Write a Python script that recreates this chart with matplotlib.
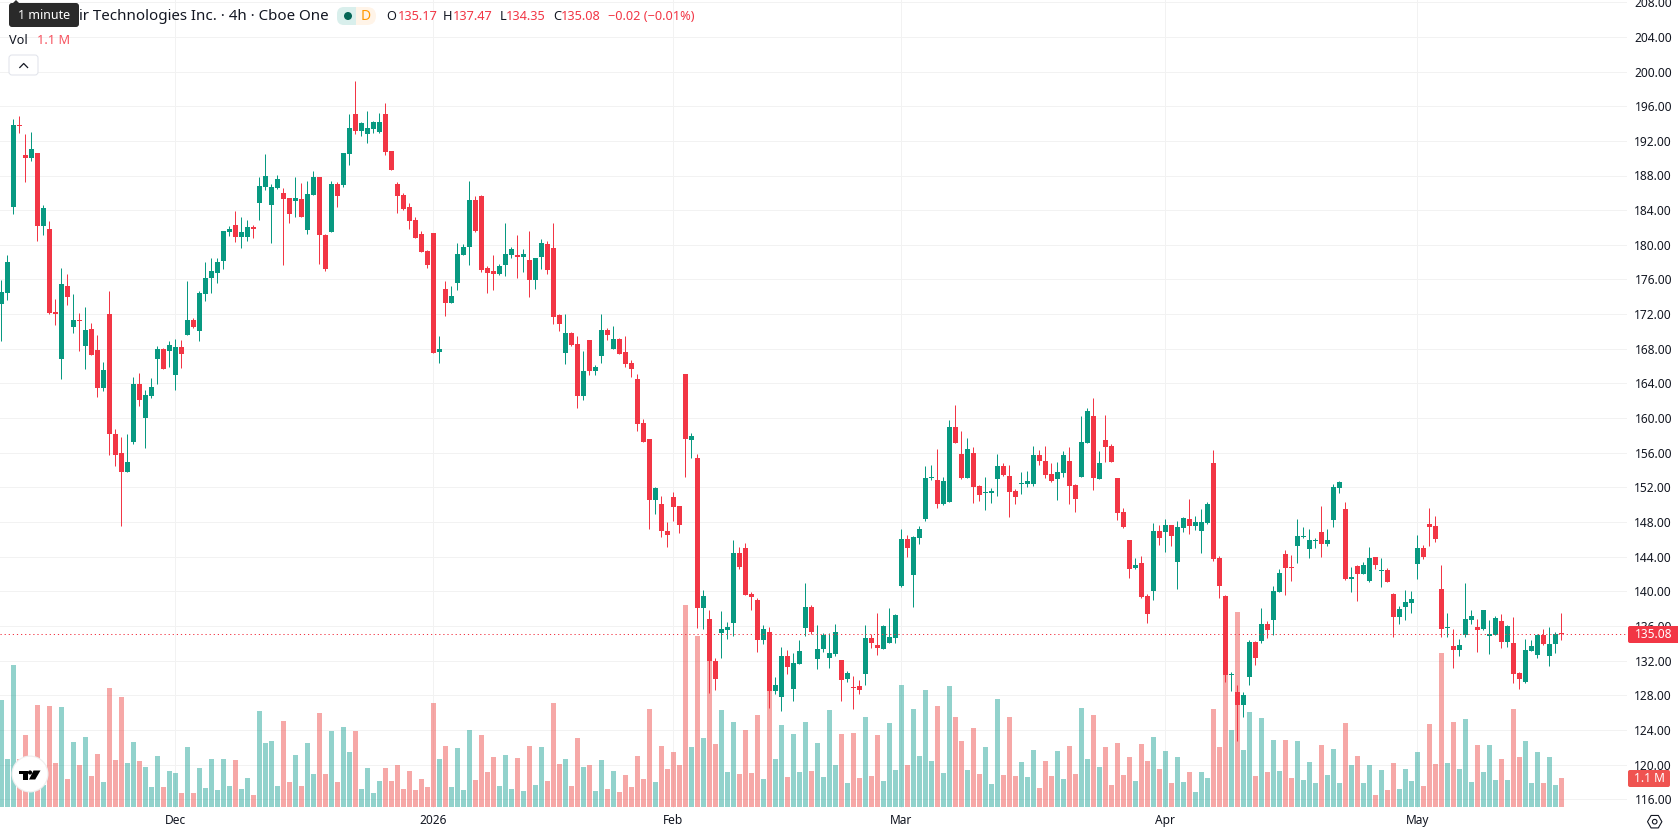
import numpy as np
import matplotlib
matplotlib.use('Agg')
import matplotlib.pyplot as plt
from matplotlib.patches import FancyBboxPatch, Circle, Rectangle, Polygon, RegularPolygon

plt.rcParams['font.family'] = ['Noto Sans', 'DejaVu Sans']

# 4h candles, oldest first
opens = [
    173.19, 174.46, 184.40, 193.88, 190.41, 190.06, 190.64, 182.21, 181.86, 172.27,
    166.84, 175.27, 170.54, 171.35, 168.34, 170.31, 167.88, 163.49, 172.04, 158.17,
    155.98, 153.78, 157.25, 163.95, 160.02, 162.56, 166.84, 168.00, 167.76, 165.00,
    168.23, 169.61, 171.35, 170.08, 174.35, 176.20, 176.78, 178.16, 181.51, 182.32,
    180.94, 180.94, 182.09, 184.86, 186.71, 184.63, 186.60, 186.02, 185.44, 185.09,
    185.33, 181.74, 185.79, 187.87, 181.17, 181.51, 187.06, 186.94, 190.53, 195.15,
    193.18, 192.84, 193.41, 193.07, 195.15, 190.87, 187.06, 185.79, 184.40, 182.90,
    181.28, 179.32, 181.40, 167.65, 174.93, 173.31, 175.62, 178.86, 179.78, 185.21,
    185.67, 177.36, 177.01, 176.66, 177.70, 178.86, 178.86, 178.63, 178.28, 175.97,
    178.63, 180.13, 179.67, 171.93, 167.54, 169.85, 168.58, 162.57, 169.04, 165.46,
    167.19, 170.19, 168.00, 169.15, 167.65, 166.38, 164.53, 159.45, 157.60, 150.55,
    150.09, 146.97, 150.90, 149.86, 165.11, 157.48, 155.40, 138.07, 136.80, 131.94,
    135.18, 135.52, 136.33, 144.42, 145.00, 139.68, 138.99, 134.37, 135.29, 128.48,
    127.78, 132.52, 128.71, 131.60, 135.76, 138.18, 132.17, 133.33, 132.29, 132.75,
    132.06, 129.86, 128.94, 129.05, 130.44, 134.60, 133.79, 133.33, 134.02, 134.60,
    140.61, 146.04, 141.88, 146.15, 148.35, 153.09, 152.86, 150.08, 150.31, 158.98,
    155.86, 153.09, 155.97, 152.16, 151.35, 151.35, 152.97, 154.47, 153.32, 151.58,
    152.39, 152.39, 152.39, 155.74, 155.05, 153.55, 152.97, 153.66, 155.05, 152.28,
    153.20, 157.13, 160.25, 152.97, 157.48, 156.79, 153.09, 149.16, 145.92, 142.69,
    143.27, 139.45, 140.03, 146.96, 146.85, 147.66, 143.38, 147.31, 148.35, 147.54,
    146.96, 147.89, 154.82, 143.84, 139.45, 130.33, 128.36, 126.86, 130.10, 134.14,
    134.25, 136.22, 136.68, 139.92, 144.31, 142.81, 145.23, 146.27, 144.88, 145.81,
    146.85, 145.46, 148.24, 151.93, 149.51, 141.42, 142.92, 141.99, 141.19, 143.96,
    142.34, 142.46, 139.69, 137.03, 138.18, 138.65, 143.15, 145.00, 147.77, 147.54,
    140.26, 135.76, 133.68, 133.21, 134.95, 136.68, 135.87, 135.64, 134.84, 134.95,
    136.57, 134.14, 134.03, 130.56, 129.52, 133.10, 132.64, 134.95, 132.53, 133.91,
    135.17,
]
highs = [
    175.97, 178.86, 194.57, 194.92, 192.84, 193.07, 190.64, 184.63, 182.78, 173.77,
    177.35, 176.66, 174.35, 172.15, 172.85, 171.00, 169.61, 166.49, 174.70, 158.75,
    157.83, 158.17, 164.76, 165.22, 163.26, 164.64, 168.34, 168.11, 168.92, 169.15,
    169.03, 175.85, 171.58, 174.70, 178.05, 178.51, 178.51, 181.63, 182.21, 183.94,
    183.25, 182.90, 182.32, 187.87, 190.53, 187.06, 188.10, 186.60, 185.44, 187.87,
    187.17, 187.41, 188.56, 187.87, 181.28, 187.41, 187.29, 190.64, 195.15, 198.96,
    194.22, 195.49, 194.34, 195.26, 196.42, 190.87, 187.29, 186.02, 184.87, 183.25,
    181.63, 179.44, 181.40, 169.50, 175.85, 175.28, 180.24, 180.13, 187.41, 185.67,
    185.79, 177.59, 178.86, 177.82, 182.56, 179.78, 181.17, 179.55, 181.63, 178.51,
    180.71, 180.48, 182.56, 172.04, 172.04, 169.96, 169.50, 167.77, 169.04, 166.15,
    172.04, 170.42, 170.65, 169.27, 169.50, 166.73, 165.11, 159.91, 157.60, 152.05,
    151.01, 148.01, 151.47, 149.86, 165.11, 158.29, 155.86, 140.15, 137.83, 132.29,
    137.72, 136.45, 145.92, 145.13, 145.58, 139.91, 139.22, 136.10, 135.87, 130.09,
    133.56, 133.21, 132.87, 134.37, 140.95, 138.41, 136.10, 135.18, 135.18, 136.22,
    132.06, 130.79, 130.21, 129.75, 136.10, 135.06, 137.49, 136.10, 138.07, 137.37,
    147.19, 146.50, 146.39, 147.54, 154.47, 154.59, 156.44, 153.20, 159.79, 161.52,
    158.52, 157.71, 156.67, 152.28, 153.20, 151.93, 155.86, 154.82, 154.59, 151.82,
    153.78, 153.90, 156.78, 156.32, 156.78, 154.82, 154.94, 156.21, 156.67, 152.39,
    160.25, 161.18, 162.33, 156.21, 160.37, 157.02, 153.09, 149.62, 145.92, 143.84,
    144.08, 139.69, 147.89, 147.66, 148.35, 147.66, 148.12, 148.58, 150.66, 148.70,
    149.51, 150.31, 156.32, 144.08, 139.57, 130.67, 129.17, 128.36, 134.37, 134.25,
    138.07, 136.57, 140.61, 142.57, 144.77, 144.19, 148.35, 147.43, 147.20, 146.16,
    149.85, 147.20, 152.39, 152.74, 150.31, 142.81, 143.04, 143.38, 145.12, 143.96,
    143.84, 142.69, 139.80, 138.30, 140.15, 140.03, 146.50, 145.35, 149.62, 148.70,
    143.04, 137.49, 135.64, 134.49, 140.96, 137.84, 136.80, 137.84, 136.68, 137.15,
    137.38, 136.11, 137.03, 130.68, 134.49, 134.37, 135.07, 135.64, 135.88, 135.30,
    137.47,
]
lows = [
    168.92, 173.66, 183.60, 192.95, 187.29, 189.72, 180.47, 181.17, 172.04, 170.77,
    164.53, 173.08, 169.84, 167.76, 165.68, 167.30, 162.45, 163.14, 155.75, 154.48,
    147.54, 153.78, 157.02, 161.41, 156.56, 162.33, 163.95, 165.68, 165.92, 163.26,
    165.80, 169.61, 170.42, 168.92, 173.54, 174.46, 175.62, 177.24, 181.05, 180.36,
    179.66, 180.47, 180.82, 182.90, 186.37, 180.24, 186.48, 177.70, 182.55, 183.25,
    183.25, 181.28, 185.79, 177.82, 177.01, 181.51, 184.40, 186.71, 189.25, 192.84,
    192.60, 191.80, 192.95, 192.95, 190.41, 188.68, 183.71, 184.06, 181.86, 180.82,
    179.20, 177.36, 167.54, 166.38, 171.81, 173.31, 174.81, 178.86, 177.70, 181.52,
    176.89, 174.47, 174.81, 176.55, 176.43, 178.51, 176.20, 176.89, 174.00, 174.93,
    177.24, 176.66, 170.89, 170.08, 166.26, 168.35, 161.18, 162.10, 165.00, 165.00,
    166.38, 169.04, 168.00, 167.42, 165.92, 164.76, 158.52, 157.25, 147.20, 148.93,
    146.28, 145.12, 148.12, 146.74, 153.21, 155.40, 135.76, 135.64, 128.25, 128.59,
    132.29, 134.48, 134.83, 142.57, 139.57, 137.83, 132.98, 133.91, 126.51, 128.13,
    126.16, 130.44, 127.32, 131.60, 134.83, 135.06, 131.02, 132.98, 131.13, 132.52,
    127.32, 129.52, 126.40, 128.13, 129.17, 133.44, 132.64, 133.33, 134.02, 134.02,
    140.49, 143.96, 138.18, 145.46, 148.12, 152.86, 149.62, 149.97, 150.31, 157.13,
    152.97, 153.09, 150.20, 150.43, 149.39, 150.20, 151.00, 153.32, 148.58, 150.08,
    151.24, 152.05, 152.16, 154.59, 153.09, 152.62, 150.54, 153.20, 150.08, 149.16,
    153.20, 157.13, 151.70, 152.97, 154.94, 154.94, 148.24, 147.31, 141.53, 142.57,
    139.22, 136.33, 138.99, 145.35, 144.54, 145.23, 140.26, 146.85, 146.62, 147.08,
    144.42, 147.77, 143.50, 139.22, 129.52, 128.48, 122.70, 125.47, 129.17, 131.48,
    134.02, 134.60, 134.95, 139.92, 139.57, 141.19, 143.27, 146.16, 143.84, 145.00,
    143.96, 145.23, 147.43, 151.35, 141.30, 139.92, 138.88, 141.99, 141.07, 142.57,
    140.49, 141.07, 134.72, 136.22, 136.68, 137.49, 141.42, 143.73, 145.23, 145.69,
    134.72, 134.72, 131.14, 132.52, 134.72, 136.22, 132.98, 135.53, 132.76, 134.95,
    133.45, 133.56, 129.41, 128.71, 129.41, 133.10, 132.29, 133.80, 131.37, 132.87,
    134.35,
]
closes = [
    174.58, 178.05, 193.88, 193.76, 190.06, 191.10, 182.21, 184.29, 172.15, 172.04,
    175.50, 174.00, 171.35, 171.23, 170.19, 167.30, 163.49, 165.57, 158.17, 155.75,
    153.78, 154.94, 163.95, 162.10, 162.68, 163.60, 168.00, 165.68, 168.46, 168.23,
    167.42, 171.35, 170.54, 174.46, 176.20, 177.00, 178.05, 181.63, 181.86, 180.94,
    181.51, 182.09, 181.86, 186.83, 187.98, 186.71, 187.64, 185.33, 183.59, 185.44,
    183.25, 185.90, 187.87, 181.17, 177.24, 187.06, 185.67, 190.64, 193.53, 193.18,
    194.10, 193.53, 194.22, 194.22, 190.76, 188.68, 185.67, 184.17, 182.79, 180.82,
    179.20, 177.70, 167.54, 168.00, 173.31, 174.12, 178.97, 179.78, 185.21, 181.63,
    177.12, 176.78, 176.66, 177.59, 178.97, 179.55, 178.63, 178.97, 175.97, 178.51,
    180.24, 177.12, 171.70, 170.89, 169.85, 168.46, 162.57, 165.46, 165.46, 165.92,
    170.19, 169.62, 169.15, 167.42, 166.26, 165.69, 159.33, 157.25, 150.55, 151.94,
    146.97, 146.51, 149.74, 147.66, 157.60, 157.95, 138.07, 139.45, 131.94, 129.86,
    135.64, 135.87, 144.42, 142.80, 139.57, 139.34, 134.37, 135.64, 128.48, 129.17,
    132.52, 131.25, 131.71, 133.10, 138.18, 135.29, 133.33, 134.95, 132.87, 135.29,
    129.75, 130.56, 128.82, 128.59, 134.60, 134.02, 133.44, 135.99, 134.72, 137.26,
    146.04, 145.00, 146.27, 147.19, 153.09, 153.20, 150.08, 152.74, 158.98, 157.13,
    153.09, 156.44, 152.05, 151.12, 151.47, 151.58, 154.47, 153.43, 151.47, 150.89,
    152.51, 152.74, 155.74, 155.05, 153.43, 152.74, 153.78, 155.74, 152.16, 150.66,
    157.25, 160.83, 153.09, 154.82, 156.67, 154.94, 149.04, 147.43, 142.57, 143.04,
    139.34, 137.37, 146.96, 146.16, 147.66, 146.39, 147.43, 148.47, 147.54, 148.00,
    148.00, 150.08, 143.73, 140.61, 130.33, 130.44, 126.86, 128.02, 134.14, 132.29,
    136.22, 135.53, 140.03, 142.11, 142.69, 142.69, 146.39, 146.39, 145.92, 145.92,
    145.46, 145.92, 152.05, 152.63, 141.42, 141.65, 141.99, 143.04, 143.84, 143.04,
    142.46, 141.07, 137.03, 137.95, 138.76, 139.11, 145.00, 143.96, 147.43, 146.04,
    135.64, 135.87, 133.21, 133.79, 136.80, 137.14, 135.53, 137.84, 135.07, 136.92,
    134.14, 135.99, 130.45, 129.87, 133.22, 133.68, 134.95, 133.91, 133.91, 135.07,
    135.08,
]
# volume per candle, in millions
volumes = [
    4.10, 1.84, 5.45, 1.84, 2.76, 0.78, 3.91, 0.84, 3.87, 1.69,
    3.84, 1.07, 2.49, 1.61, 2.69, 1.19, 2.03, 0.96, 4.57, 1.80,
    4.22, 1.69, 2.49, 1.76, 1.53, 0.77, 1.96, 0.77, 1.38, 1.30,
    0.54, 2.30, 0.54, 1.50, 0.73, 1.84, 0.65, 1.84, 0.81, 1.80,
    0.69, 1.11, 0.46, 3.68, 2.46, 2.53, 0.81, 3.30, 0.96, 1.99,
    0.81, 2.46, 1.27, 3.61, 1.27, 2.92, 0.96, 3.07, 2.11, 2.92,
    0.69, 1.50, 0.54, 1.00, 1.50, 1.00, 1.61, 0.69, 1.38, 0.65,
    1.07, 0.77, 3.99, 1.84, 2.34, 0.77, 2.26, 0.65, 2.95, 1.04,
    2.76, 1.34, 1.92, 0.81, 1.99, 0.69, 1.88, 0.61, 2.34, 0.84,
    2.30, 1.00, 3.99, 1.65, 1.84, 0.81, 2.65, 1.53, 1.61, 0.61,
    1.80, 0.69, 1.38, 0.58, 1.23, 0.77, 1.96, 1.07, 3.76, 0.96,
    2.34, 1.46, 2.11, 1.61, 7.75, 2.30, 6.56, 2.65, 6.02, 2.42,
    3.72, 1.34, 3.26, 1.27, 2.95, 1.30, 3.53, 1.07, 4.62, 1.84,
    3.15, 1.15, 2.80, 1.34, 3.26, 1.38, 2.46, 1.15, 3.72, 1.61,
    2.80, 0.92, 2.84, 1.11, 3.45, 1.19, 2.76, 1.00, 3.22, 1.42,
    4.68, 1.61, 3.76, 1.96, 4.49, 1.76, 3.87, 1.30, 4.64, 3.45,
    2.53, 1.42, 3.03, 1.27, 2.30, 0.88, 4.14, 1.23, 3.45, 1.19,
    1.73, 1.15, 2.19, 0.73, 1.76, 1.19, 2.15, 1.07, 2.34, 1.27,
    3.80, 1.84, 3.53, 1.53, 2.30, 0.84, 2.46, 1.23, 1.92, 1.00,
    2.42, 1.76, 2.69, 1.46, 2.15, 0.92, 1.92, 0.96, 1.34, 0.58,
    1.34, 1.11, 3.76, 2.30, 5.26, 2.95, 7.48, 2.19, 3.64, 1.19,
    3.41, 1.34, 2.57, 1.38, 2.57, 1.11, 2.53, 1.04, 1.73, 0.92,
    2.38, 1.23, 2.23, 0.92, 3.22, 1.61, 1.96, 0.92, 1.61, 0.46,
    1.42, 0.65, 1.69, 0.69, 1.46, 1.00, 2.11, 0.81, 3.18, 1.65,
    5.91, 1.69, 3.26, 1.46, 3.38, 0.96, 2.38, 1.34, 2.38, 1.04,
    1.84, 1.04, 3.76, 1.92, 2.53, 0.92, 2.11, 0.92, 1.92, 0.84,
    1.11,
]

price_ticks = list(range(116, 212, 4))
month_pos = [29, 72, 112, 150, 194, 236]
month_labels = ['Dec', '2026', 'Feb', 'Mar', 'Apr', 'May']
last_price = 135.08

UP = '#089981'
DOWN = '#F23645'
TEXT = '#131722'

W, H = 1678, 835
PANE_W, PANE_H = 1627, 808

fig = plt.figure(figsize=(W / 100, H / 100), dpi=100, facecolor='white')
rect = [0, (H - PANE_H) / H, PANE_W / W, PANE_H / H]

ax_bg = fig.add_axes(rect, zorder=0)
ax_vol = fig.add_axes(rect, zorder=1)
ax = fig.add_axes(rect, zorder=2)
ax_ui = fig.add_axes([0, 0, 1, 1], zorder=3)

x = np.arange(len(opens))
opens_a, highs_a, lows_a, closes_a = map(np.array, (opens, highs, lows, closes))
is_up = closes_a >= opens_a

# 6 px per candle, 8.6625 px per dollar with 196 sitting 106.2 px below the top
xlim = (-0.2, (PANE_W - 1.2) / 6)
ylim = (196 - (PANE_H - 106.2) / 8.6625, 196 + 106.2 / 8.6625)

ax_bg.set_xlim(xlim)
ax_bg.set_ylim(ylim)
ax_bg.set_yticks(price_ticks)
ax_bg.set_yticklabels([f'{p:.2f}' for p in price_ticks], ha='right')
ax_bg.yaxis.tick_right()
ax_bg.set_xticks(month_pos)
ax_bg.set_xticklabels(month_labels)
ax_bg.get_xticklabels()[1].set_fontweight('bold')
ax_bg.tick_params(axis='y', length=0, pad=32.4, labelsize=8.6, labelcolor=TEXT)
ax_bg.tick_params(axis='x', length=0, pad=4.5, labelsize=8.6, labelcolor=TEXT)
ax_bg.grid(True, color='#F2F2F2', lw=0.72)
ax_bg.set_axisbelow(True)
for s in ax_bg.spines.values():
    s.set_visible(False)

# volume pane shares the same baseline near the bottom of the chart
ax_vol.set_xlim(xlim)
ax_vol.set_ylim((807 - PANE_H) / 26.07, 807 / 26.07)
ax_vol.bar(x, volumes, width=5 / 6, linewidth=0, alpha=0.5,
           color=np.where(is_up, '#26A69A', '#EF5350'))
ax_vol.axis('off')

# candles
ax.set_xlim(xlim)
ax.set_ylim(ylim)
colors = np.where(is_up, UP, DOWN)
wicks = ax.vlines(x, lows_a, highs_a, colors=colors, lw=0.72, capstyle='butt')
wicks.set_snap(True)
body_low = np.minimum(opens_a, closes_a)
body_h = np.maximum(np.abs(closes_a - opens_a), 0.12)
ax.bar(x, body_h, bottom=body_low, width=5 / 6, color=colors, linewidth=0)
ax.axhline(last_price, color=DOWN, lw=0.72, ls=(0, (1.2, 2.9)))
ax.axis('off')

# header, price tags and other overlays are placed in pixels
ax_ui.set_xlim(0, W)
ax_ui.set_ylim(H, 0)
ax_ui.axis('off')
ax_ui.patch.set_alpha(0)


def label(px, py, s, color=TEXT, size=9.2, **kw):
    ax_ui.text(px, py, s, color=color, fontsize=size, va='center', **kw)


label(329, 16.5, 'ir Technologies Inc. · 4h · Cboe One', size=10.9, ha='right')

# tooltip over the start of the title
ax_ui.add_patch(FancyBboxPatch((11, 5), 66, 20, boxstyle='round,pad=2,rounding_size=3',
                               fc='#2A2A2A', ec='none', zorder=5))
ax_ui.add_patch(Polygon([(12, 4), (16, 0), (20, 4)], fc='#2A2A2A', ec='none', zorder=5))
label(44, 15.5, '1 minute', color='white', size=9, ha='center', zorder=6)

# status pills
ax_ui.add_patch(FancyBboxPatch((346, 7), 30, 18, boxstyle='round,pad=0,rounding_size=9',
                               fc='#FFF4E8', ec='none'))
ax_ui.add_patch(FancyBboxPatch((337, 7), 14, 18, boxstyle='round,pad=0,rounding_size=7',
                               fc='#D9EFEC', ec='none'))
ax_ui.add_patch(Rectangle((344, 7), 12, 18, fc='#D9EFEC', ec='none'))
ax_ui.add_patch(Circle((348, 16), 4, fc='#056656', ec='none'))
label(365.7, 16, 'D', color='#FF9800', size=10, ha='center', fontweight='bold')

ohlc_x = [(386.5, 'O', TEXT), (397.5, '135.17', DOWN), (443, 'H', TEXT), (453, '137.47', DOWN),
          (499.5, 'L', TEXT), (506, '134.35', DOWN), (553, 'C', TEXT), (561, '135.08', DOWN),
          (608, '−0.02 (−0.01%)', DOWN)]
for px, s, c in ohlc_x:
    label(px, 16.5, s, color=c)

label(9, 41, 'Vol')
label(37, 41, '1.1 M', color='#F7525F')

# collapse button
ax_ui.add_patch(FancyBboxPatch((10, 56), 27, 18, boxstyle='round,pad=1,rounding_size=3',
                               fc='white', ec='#E0E3EB', lw=0.72))
ax_ui.plot([19.8, 23.7, 27.6], [67.5, 63.5, 67.5], color=TEXT, lw=0.9)

# price tags on the scale
ax_ui.add_patch(FancyBboxPatch((1628, 626), 60, 17, boxstyle='round,pad=0,rounding_size=2',
                               fc=DOWN, ec='none'))
label(1672, 634.5, '135.08', color='white', size=8.6, ha='right')
ax_ui.add_patch(FancyBboxPatch((1628, 770), 42, 17, boxstyle='round,pad=0,rounding_size=2',
                               fc='#EF5350', ec='none'))
label(1649, 778.5, '1.1 M', color='white', size=8.6, ha='center')

# settings glyph
ax_ui.add_patch(RegularPolygon((1654.7, 821.7), 6, radius=7.2, orientation=np.pi / 6,
                               fc='none', ec=TEXT, lw=0.8))
ax_ui.add_patch(Circle((1654.7, 821.7), 2.3, fc='none', ec=TEXT, lw=0.8))

# logo badge
ax_ui.add_patch(Circle((30, 774), 18.5, fc='#EFEFEF', ec='none'))
ax_ui.add_patch(Circle((30, 774), 17.3, fc='white', ec='none'))
ax_ui.add_patch(Polygon([(19, 770.5), (27.5, 770.5), (27.5, 779.5), (23, 779.5), (23, 774.3), (19, 774.3)],
                        fc='black', ec='none'))
ax_ui.add_patch(Circle((30, 772.5), 2.1, fc='black', ec='none'))
ax_ui.add_patch(Polygon([(33.5, 770.5), (40.5, 770.5), (35.2, 779.5), (29, 779.5)], fc='black', ec='none'))

fig.savefig('out.png', dpi=100, facecolor='white')
